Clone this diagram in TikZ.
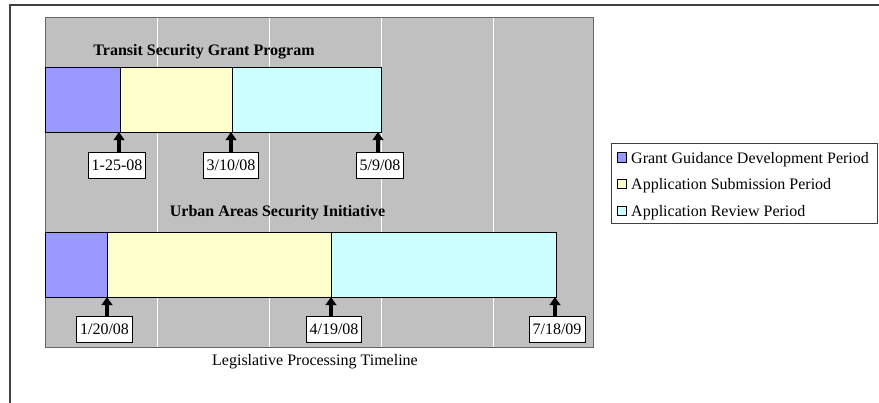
\documentclass[tikz,border=0pt]{standalone}
\usepackage{fontspec}
\setmainfont{Liberation Serif}
\usetikzlibrary{arrows.meta}
\definecolor{plotgray}{HTML}{C0C0C0}
\definecolor{guidance}{HTML}{9999FF}
\definecolor{submission}{HTML}{FFFFCC}
\definecolor{review}{HTML}{CCFFFF}
\definecolor{framegray}{HTML}{404040}
\begin{document}
\begin{tikzpicture}[x=1pt,y=-1pt,
  txt/.style={font=\fontsize{16}{18}\selectfont, inner sep=0pt},
  title/.style={txt, font=\fontsize{16}{18}\selectfont\bfseries},
  seg/.style={draw=black, line width=0.9pt},
  datebox/.style={draw=black, fill=white, line width=0.9pt, inner xsep=3.5pt, inner ysep=0pt,
    minimum height=26pt, text height=11pt, text depth=0pt, font=\fontsize{16}{18}\selectfont},
  marker/.style={line width=3.1pt, -{Triangle[width=10.5pt,length=8pt]}},
  keybox/.style={draw=black, line width=0.7pt, minimum size=9.5pt, inner sep=0pt},
  keytext/.style={txt, anchor=base west}]
\useasboundingbox (0,0) rectangle (879,402);
\clip (0,0) rectangle (879,402);
\fill[white] (0,0) rectangle (879,402);
% outer frame (runs past the page on the right and bottom)
\draw[framegray, line width=1.6pt] (10,420) -- (10,5) -- (900,5);

% plot area and grid
\fill[plotgray] (45,17) rectangle (593,347);
\draw[gray!80!black, line width=0.8pt] (45,17) rectangle (593,347);
\foreach \gx in {157,269,381,493}
  \draw[white, line width=0.9pt] (\gx,17.5) -- (\gx,346.5);

% Transit Security Grant Program
\node[title] (t-title) at (204,52) {Transit Security Grant Program};
\filldraw[seg, fill=guidance]   (45,67) rectangle (120,132);
\filldraw[seg, fill=submission] (120,67) rectangle (232,132);
\filldraw[seg, fill=review]     (232,67) rectangle (381,132);
\coordinate (t-a) at (119,132);
\coordinate (t-b) at (231,132);
\coordinate (t-c) at (378,132);
\node[datebox] (t-d1) at (117,165) {1-25-08};
\node[datebox] (t-d2) at (231,165) {3/10/08};
\node[datebox] (t-d3) at (380,165) {5/9/08};
\draw[marker] (t-d1.north -| t-a) -- (t-a);
\draw[marker] (t-d2.north -| t-b) -- (t-b);
\draw[marker] (t-d3.north -| t-c) -- (t-c);

% Urban Areas Security Initiative
\node[title] (u-title) at (277.5,213) {Urban Areas Security Initiative};
\filldraw[seg, fill=guidance]   (45,232) rectangle (107,297);
\filldraw[seg, fill=submission] (107,232) rectangle (331,297);
\filldraw[seg, fill=review]     (331,232) rectangle (556,297);
\coordinate (u-a) at (107,297);
\coordinate (u-b) at (331,297);
\coordinate (u-c) at (555,297);
\node[datebox] (u-d1) at (104.5,329) {1/20/08};
\node[datebox] (u-d2) at (334,329) {4/19/08};
\node[datebox] (u-d3) at (557,329) {7/18/09};
\draw[marker] (u-d1.north -| u-a) -- (u-a);
\draw[marker] (u-d2.north -| u-b) -- (u-b);
\draw[marker] (u-d3.north -| u-c) -- (u-c);

% axis caption
\node[txt] (caption) at (315,362) {Legislative Processing Timeline};

% legend
\draw[framegray, line width=0.8pt, fill=white] (611,143) rectangle (877,223);
\node[keybox, fill=guidance]   (k1) at (622,157.5) {};
\node[keybox, fill=submission] (k2) at (622,184) {};
\node[keybox, fill=review]     (k3) at (622,211) {};
\node[keytext] (k1t) at (631,163) {Grant Guidance Development Period};
\node[keytext] (k2t) at (631,189.5) {Application Submission Period};
\node[keytext] (k3t) at (631,216.5) {Application Review Period};
\end{tikzpicture}
\end{document}
